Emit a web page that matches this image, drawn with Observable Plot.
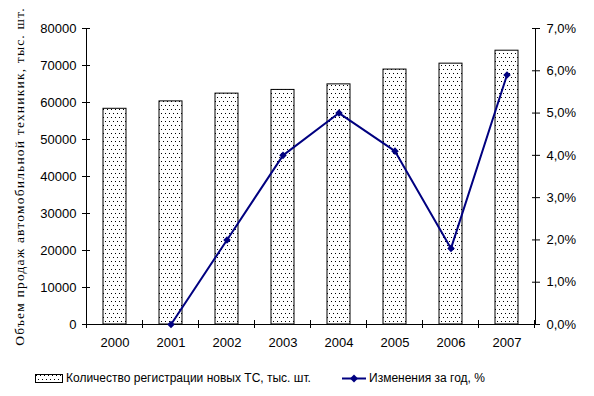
<!DOCTYPE html>
<html>
<head>
<meta charset="utf-8">
<script src="https://cdn.jsdelivr.net/npm/d3@7"></script>
<script src="https://cdn.jsdelivr.net/npm/@observablehq/plot@0.6"></script>
<style>
  body { margin: 0; background: #fff; }
  #wrap { position: relative; width: 594px; height: 396px; background: #fff; }
  #chart svg { display: block; }
  g[aria-label="y-axis label"] text { font-family: "Liberation Serif", "Times New Roman", serif; font-size: 13.5px; letter-spacing: 1.2px; }
  .legend { position: absolute; top: 370px; font-family: "Liberation Sans", Arial, sans-serif; font-size: 12px; color: #000; white-space: nowrap; display: flex; align-items: center; height: 16px; }
  .legend svg { display: block; margin-right: 3px; }
</style>
</head>
<body>
<div id="wrap">
  <div id="chart"></div>
  <div class="legend" style="left:35px;">
    <svg width="28" height="9"><defs><pattern id="dotsL" width="4" height="8" patternUnits="userSpaceOnUse"><rect width="4" height="8" fill="#fff"/><rect x="1" y="1" width="1" height="1" fill="#000"/><rect x="3" y="5" width="1" height="1" fill="#000"/></pattern></defs><rect x="0.5" y="0.5" width="27" height="8" fill="url(#dotsL)" stroke="#000"/></svg>
    <span id="leg1"></span>
  </div>
  <div class="legend" style="left:342px;">
    <svg width="24" height="9"><line x1="0" y1="4.5" x2="24" y2="4.5" stroke="#000080" stroke-width="2"/><path d="M12 0.5 L16 4.5 L12 8.5 L8 4.5 Z" fill="#000080"/></svg>
    <span id="leg2"></span>
  </div>
</div>
<script>
const years = ["2000", "2001", "2002", "2003", "2004", "2005", "2006", "2007"];
const registrations = [58300, 60300, 62400, 63400, 64900, 68900, 70500, 74000];
const changePct = [null, 0.0, 2.0, 4.0, 5.0, 4.1, 1.8, 5.9];
const leftTicks = [0, 10000, 20000, 30000, 40000, 50000, 60000, 70000, 80000];
const rightTicks = [0, 1, 2, 3, 4, 5, 6, 7];
const yTitle = "Объем продаж автомобильной техникик, тыс. шт.";
const barLegend = "Количество регистрации новых ТС, тыс. шт.";
const lineLegend = "Изменения за год, %";

const Y_MAX = 80000, PCT_MAX = 7;
const k = Y_MAX / PCT_MAX;

const bars = years.map((year, i) => ({year, value: registrations[i]}));
const points = years.map((year, i) => ({year, pct: changePct[i]})).filter(d => d.pct != null);

document.getElementById("leg1").textContent = barLegend;
document.getElementById("leg2").textContent = lineLegend;

const plot = Plot.plot({
  width: 594,
  height: 356,
  marginLeft: 86,
  marginRight: 59,
  marginTop: 28,
  marginBottom: 32,
  style: {fontFamily: "'Liberation Sans', Arial, sans-serif", fontSize: "13px", color: "#000", background: "#fff"},
  x: {domain: years, paddingInner: 0.59, paddingOuter: 0.295},
  y: {domain: [0, Y_MAX]},
  marks: [
    Plot.barY(bars, {x: "year", y: "value", fill: "url(#dots)", stroke: "#000", strokeWidth: 1}),
    Plot.ruleY([0], {stroke: "#000"}),
    Plot.frame({anchor: "left", stroke: "#000"}),
    Plot.frame({anchor: "right", stroke: "#000"}),
    Plot.axisY({ticks: leftTicks, tickFormat: d => String(d), tickSize: 8, dx: 4, tickPadding: 6,
      label: yTitle, labelAnchor: "center", labelArrow: "none", labelOffset: 72}),
    Plot.axisY({anchor: "right", ticks: rightTicks.map(p => p * k),
      tickFormat: v => (v / k).toFixed(1).replace(".", ",") + "%",
      tickSize: 8, dx: -4, tickPadding: 7, label: null}),
    Plot.axisX({tickSize: 0, tickPadding: 13, label: null}),
    Plot.line(points, {x: "year", y: d => d.pct * k, stroke: "#000080", strokeWidth: 2}),
    Plot.dot(points, {x: "year", y: d => d.pct * k, symbol: "diamond2", r: 3.4, fill: "#000080", stroke: "none"})
  ]
});

// dotted pattern for bars
const svg = d3.select(plot);
const defs = svg.insert("defs", ":first-child");
const pat = defs.append("pattern").attr("id", "dots").attr("width", 4).attr("height", 8).attr("patternUnits", "userSpaceOnUse");
pat.append("rect").attr("width", 4).attr("height", 8).attr("fill", "#fff");
pat.append("rect").attr("x", 1).attr("y", 1).attr("width", 1).attr("height", 1).attr("fill", "#000");
pat.append("rect").attr("x", 3).attr("y", 5).attr("width", 1).attr("height", 1).attr("fill", "#000");

// category-boundary tick marks on the x axis, from the band scale
const xs = plot.scale("x");
const ys = plot.scale("y");
const y0 = ys.apply(0);
const gap = (xs.step - xs.bandwidth) / 2;
const bounds = years.map(yv => xs.apply(yv) - gap).concat([xs.apply(years[years.length - 1]) + xs.bandwidth + gap]);
svg.append("g").attr("aria-label", "x boundary ticks")
  .selectAll("line").data(bounds).join("line")
  .attr("x1", d => d).attr("x2", d => d)
  .attr("y1", y0 - 4).attr("y2", y0 + 4)
  .attr("stroke", "#000");

document.getElementById("chart").append(plot);
</script>
</body>
</html>
